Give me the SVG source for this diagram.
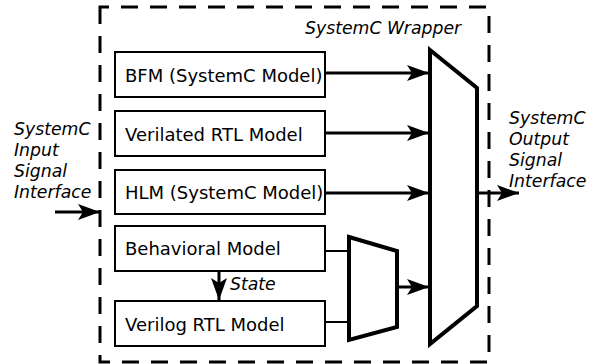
<svg xmlns="http://www.w3.org/2000/svg" width="597" height="364" viewBox="0 0 597 364">
<defs>
<marker id="ah" viewBox="0 0 22 16" refX="22" refY="8" markerWidth="22" markerHeight="16" markerUnits="userSpaceOnUse" orient="auto">
<path d="M0,0 L22,8 L0,16 L5,8 Z" fill="#000"/>
</marker>
</defs>
<style>
text{font-family:"DejaVu Sans","Liberation Sans",sans-serif;font-size:18px;fill:#000}
.it{font-style:italic;font-size:17.3px}
.box{fill:#fff;stroke:#000;stroke-width:2}
.mux{fill:#fff;stroke:#000;stroke-width:4;stroke-linejoin:miter}
.ar{stroke:#000;stroke-width:3;fill:none;marker-end:url(#ah)}
.ln{stroke:#000;stroke-width:2;fill:none}
</style>
<path id="wrapper" d="M100,7 V362 H489 V7 Z" fill="none" stroke="#000" stroke-width="3" stroke-dasharray="17 12"/>
<text class="it" x="305" y="34">SystemC Wrapper</text>
<g id="input-label"><text class="it" x="14" y="135">SystemC</text><text class="it" x="14" y="156">Input</text><text class="it" x="14" y="177">Signal</text><text class="it" x="14" y="198">Interface</text></g>
<g id="output-label"><text class="it" x="509" y="124">SystemC</text><text class="it" x="509" y="145">Output</text><text class="it" x="509" y="166">Signal</text><text class="it" x="509" y="187">Interface</text></g>
<g id="bfm"><rect class="box" x="115" y="52" width="210" height="45"/><text x="125" y="82">BFM (SystemC Model)</text></g>
<g id="verilated"><rect class="box" x="115" y="111" width="210" height="45"/><text x="125" y="141">Verilated RTL Model</text></g>
<g id="hlm"><rect class="box" x="115" y="170" width="210" height="44"/><text x="125" y="199">HLM (SystemC Model)</text></g>
<g id="behavioral"><rect class="box" x="115" y="226" width="210" height="45"/><text x="125" y="255">Behavioral Model</text></g>
<g id="verilog"><rect class="box" x="115" y="301" width="210" height="45"/><text x="125" y="331">Verilog RTL Model</text></g>
<g id="small-mux"><polygon class="mux" points="349,237 397,251 397,327 349,340"/></g>
<g id="big-mux"><polygon class="mux" points="430,50 477,88 477,306 430,344"/></g>
<g id="connectors">
<line class="ar" x1="55" y1="212" x2="100" y2="212"/>
<line class="ar" x1="325" y1="73" x2="429" y2="73"/>
<line class="ar" x1="325" y1="133" x2="429" y2="133"/>
<line class="ar" x1="325" y1="193" x2="429" y2="193"/>
<line class="ln" x1="325" y1="251" x2="349" y2="251"/>
<line class="ln" x1="325" y1="322" x2="349" y2="322"/>
<line class="ar" x1="397" y1="287" x2="429" y2="287"/>
<line class="ar" x1="477" y1="193" x2="519" y2="193"/>
<line class="ar" x1="219" y1="271" x2="219" y2="300"/>
<text class="it" x="230" y="290">State</text>
</g>
</svg>
